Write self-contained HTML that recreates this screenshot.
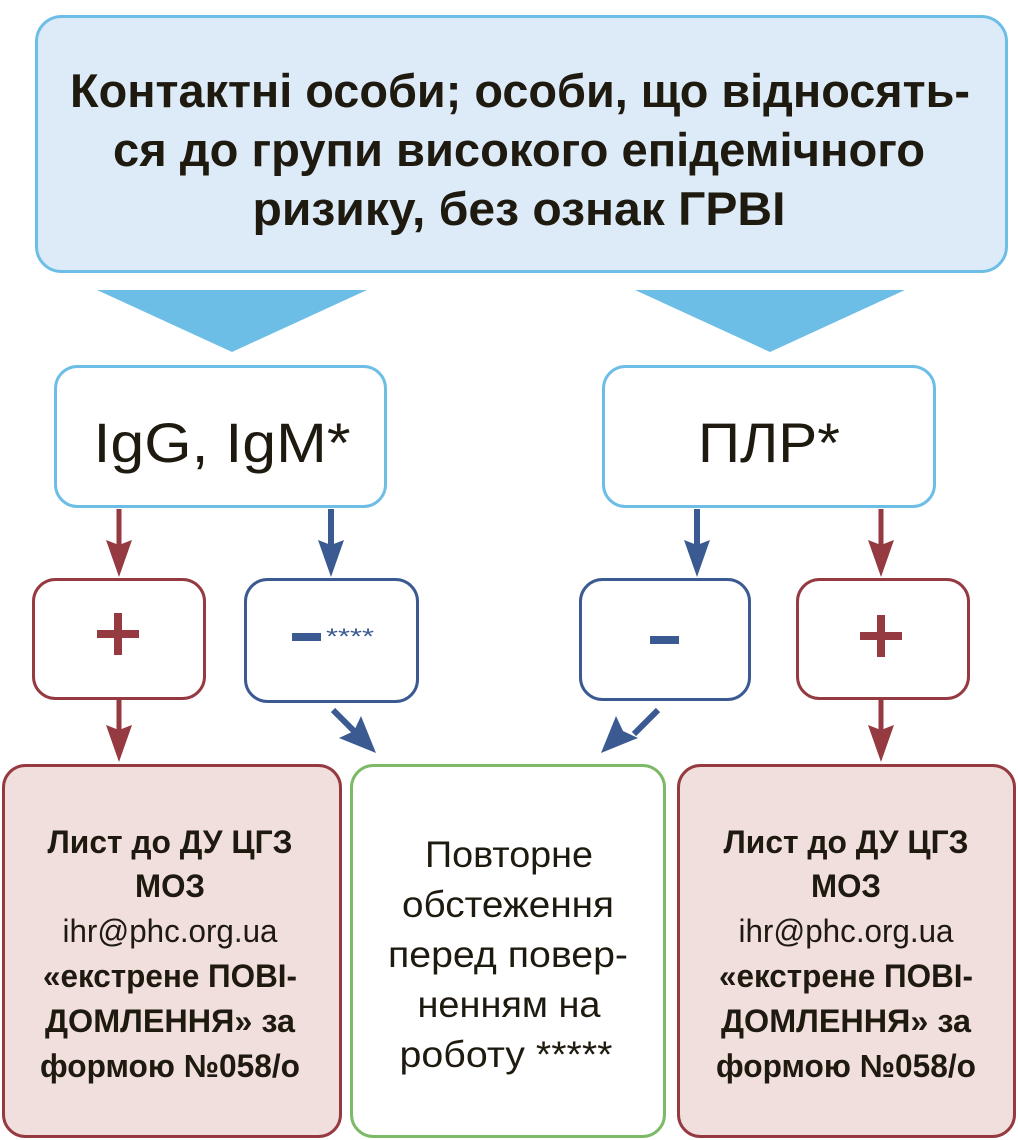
<!DOCTYPE html>
<html><head><meta charset="utf-8"><style>
html,body{margin:0;padding:0;background:#fff;}
svg{display:block;}
text{font-family:"Liberation Sans Narrow","Liberation Sans",sans-serif;fill:#1f1a0f;}
</style></head><body>
<svg width="1018" height="1140" viewBox="0 0 1018 1140" xmlns="http://www.w3.org/2000/svg">
<rect x="36.5" y="16.5" width="970" height="255" rx="25" fill="#dcebf7" stroke="#6cbee6" stroke-width="3"/>
<g font-size="47" font-weight="bold" text-anchor="middle">
<text x="520" y="107" textLength="900" lengthAdjust="spacingAndGlyphs">Контактні особи; особи, що відносять-</text>
<text x="519" y="166" textLength="812" lengthAdjust="spacingAndGlyphs">ся до групи високого епідемічного</text>
<text x="519" y="225" textLength="533" lengthAdjust="spacingAndGlyphs">ризику, без ознак ГРВІ</text>
</g>
<polygon points="97,290 367,290 232,352" fill="#6cbee6"/>
<polygon points="635,290 905,290 770,352" fill="#6cbee6"/>
<rect x="55.5" y="366.5" width="330" height="140" rx="22" fill="#fff" stroke="#6cbee6" stroke-width="3"/>
<rect x="603.5" y="366.5" width="331" height="140" rx="22" fill="#fff" stroke="#6cbee6" stroke-width="3"/>
<text x="222" y="462" font-size="56" text-anchor="middle" textLength="257" lengthAdjust="spacingAndGlyphs">IgG, IgM*</text>
<text x="769" y="462" font-size="56" text-anchor="middle" textLength="142" lengthAdjust="spacingAndGlyphs">ПЛР*</text>
<g stroke-width="5" fill="none">
<line x1="119" y1="509" x2="119" y2="550" stroke="#953a41"/>
<line x1="119" y1="699" x2="119" y2="740" stroke="#953a41"/>
<line x1="881" y1="509" x2="881" y2="550" stroke="#953a41"/>
<line x1="881" y1="699" x2="881" y2="740" stroke="#953a41"/>
<line x1="331" y1="509" x2="331" y2="550" stroke="#3b5a91" stroke-width="6"/>
<line x1="697" y1="509" x2="697" y2="550" stroke="#3b5a91" stroke-width="6"/>
<line x1="333" y1="710" x2="357" y2="734" stroke="#3b5a91" stroke-width="6"/>
<line x1="658" y1="710" x2="634" y2="734" stroke="#3b5a91" stroke-width="6"/>
</g>
<g fill="#953a41">
<polygon points="106,540 119,545 132,540 119,577"/>
<polygon points="106,725 119,730 132,725 119,762"/>
<polygon points="868,540 881,545 894,540 881,577"/>
<polygon points="868,725 881,730 894,725 881,762"/>
</g>
<g fill="#3b5a91">
<polygon points="318,540 331,545 344,540 331,577"/>
<polygon points="684,540 697,545 710,540 697,577"/>
<polygon points="376,753 339,738 354,731 361,716"/>
<polygon points="601,753 638,738 623,731 616,716"/>
</g>
<rect x="33.5" y="579.5" width="171" height="119" rx="22" fill="#fff" stroke="#953a41" stroke-width="3"/>
<rect x="245.5" y="579.5" width="172" height="122" rx="22" fill="#fff" stroke="#3b5a91" stroke-width="3"/>
<rect x="580.5" y="579.5" width="169" height="120" rx="22" fill="#fff" stroke="#3b5a91" stroke-width="3"/>
<rect x="797.5" y="579.5" width="171" height="119" rx="22" fill="#fff" stroke="#953a41" stroke-width="3"/>
<g fill="#953a41">
<rect x="97" y="630" width="42" height="8"/><rect x="114" y="613" width="8" height="42"/>
<rect x="860" y="632" width="42" height="8"/><rect x="877" y="615" width="8" height="42"/>
</g>
<g fill="#3b5a91">
<rect x="292" y="633" width="29" height="8"/>
<rect x="650" y="636" width="29" height="8"/>
</g>
<text x="326" y="644" font-size="22" style="fill:#3b5a91" textLength="48" lengthAdjust="spacingAndGlyphs">****</text>
<rect x="3.5" y="765.5" width="337" height="371" rx="22" fill="#f1dfdd" stroke="#953a41" stroke-width="3"/>
<rect x="351.5" y="765.5" width="313" height="371" rx="22" fill="#fff" stroke="#7dba67" stroke-width="3"/>
<rect x="678.5" y="765.5" width="336" height="371" rx="22" fill="#f1dfdd" stroke="#953a41" stroke-width="3"/>
<g font-size="32" text-anchor="middle">
<text x="170" y="853" font-weight="bold" textLength="245" lengthAdjust="spacingAndGlyphs">Лист до ДУ ЦГЗ</text>
<text x="170" y="897" font-weight="bold" textLength="70" lengthAdjust="spacingAndGlyphs">МОЗ</text>
<text x="170" y="942" textLength="215" lengthAdjust="spacingAndGlyphs">ihr@phc.org.ua</text>
<text x="170" y="987" font-weight="bold" textLength="254" lengthAdjust="spacingAndGlyphs">«екстрене ПОВІ-</text>
<text x="170" y="1032" font-weight="bold" textLength="250" lengthAdjust="spacingAndGlyphs">ДОМЛЕННЯ» за</text>
<text x="170" y="1077" font-weight="bold" textLength="260" lengthAdjust="spacingAndGlyphs">формою №058/о</text>
</g>
<g font-size="32" text-anchor="middle">
<text x="846" y="853" font-weight="bold" textLength="245" lengthAdjust="spacingAndGlyphs">Лист до ДУ ЦГЗ</text>
<text x="846" y="897" font-weight="bold" textLength="70" lengthAdjust="spacingAndGlyphs">МОЗ</text>
<text x="846" y="942" textLength="215" lengthAdjust="spacingAndGlyphs">ihr@phc.org.ua</text>
<text x="846" y="987" font-weight="bold" textLength="254" lengthAdjust="spacingAndGlyphs">«екстрене ПОВІ-</text>
<text x="846" y="1032" font-weight="bold" textLength="250" lengthAdjust="spacingAndGlyphs">ДОМЛЕННЯ» за</text>
<text x="846" y="1077" font-weight="bold" textLength="260" lengthAdjust="spacingAndGlyphs">формою №058/о</text>
</g>
<g font-size="37" text-anchor="middle">
<text x="509" y="867" textLength="168" lengthAdjust="spacingAndGlyphs">Повторне</text>
<text x="508" y="917" textLength="212" lengthAdjust="spacingAndGlyphs">обстеження</text>
<text x="508" y="967" textLength="240" lengthAdjust="spacingAndGlyphs">перед повер-</text>
<text x="509" y="1017" textLength="183" lengthAdjust="spacingAndGlyphs">ненням на</text>
<text x="506" y="1067" textLength="213" lengthAdjust="spacingAndGlyphs">роботу *****</text>
</g>
</svg>
</body></html>
